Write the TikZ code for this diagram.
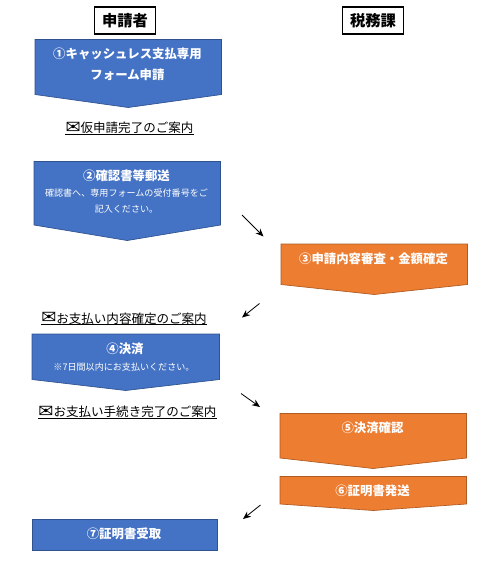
\documentclass[tikz,border=0pt]{standalone}
\usepackage{fontspec}
\newfontfamily\jp{Noto Sans CJK JP}
\newfontfamily\sym{DejaVu Sans}
\definecolor{bluef}{HTML}{4472C4}\definecolor{bluee}{HTML}{2F528F}
\definecolor{orgf}{HTML}{ED7D31}\definecolor{orge}{HTML}{AE5A21}
\newcommand{\mailicon}{{\sym\fontsize{13.5}{12}\selectfont\raisebox{-0.6pt}{✉}}}
\tikzset{
 x=0.75pt,y=-0.75pt,
 bluebox/.style={fill=bluef,draw=bluee,line width=0.5pt},
 orgbox/.style={fill=orgf,draw=orge,line width=0.5pt},
 head/.style={draw=black,line width=1.1pt,minimum width=45.5pt,minimum height=20pt,inner sep=0pt,font=\jp\bfseries\fontsize{11.5}{14}\selectfont},
 lab/.style={font=\jp\fontsize{9.4}{12}\selectfont,inner sep=0pt,text depth=1pt,text height=9pt},
 sub/.style={font=\jp\fontsize{6.8}{12.5}\selectfont,text=white,inner sep=0pt,align=center},
 big/.style={font=\jp\bfseries\fontsize{9.3}{12}\selectfont,text=white,inner sep=0pt,align=center},
 ul/.style={line width=0.6pt},
 arr/.style={-{Stealth[length=6pt,width=5pt]},line width=0.6pt},
}
\usetikzlibrary{arrows.meta}
\begin{document}
\begin{tikzpicture}
\useasboundingbox (0,0) rectangle (499,569);
% header
\node[head] (h1) at (125,20.5) {申請者};
\node[head] (h2) at (373,20.5) {税務課};
% shapes
\path[bluebox] (35,39.5) -- (221.5,39.5) -- (221.5,94.5) -- (128.2,107.5) -- (35,94.5) -- cycle;
\path[bluebox] (34,161.5) -- (220.5,161.5) -- (220.5,225) -- (127.2,240.5) -- (34,225) -- cycle;
\path[orgbox] (281,244) -- (467.5,244) -- (467.5,284.5) -- (374.2,294.5) -- (281,284.5) -- cycle;
\path[bluebox] (32,334) -- (219.5,334) -- (219.5,379.5) -- (125.7,390.5) -- (32,379.5) -- cycle;
\path[orgbox] (280,413.5) -- (466.5,413.5) -- (466.5,458) -- (373.2,468.5) -- (280,458) -- cycle;
\path[orgbox] (280,476.5) -- (466.5,476.5) -- (466.5,504) -- (373.2,510.5) -- (280,504) -- cycle;
\path[bluebox] (32,519) rectangle (217.5,550.5);
% texts
\node[big] (t1a) at (127.5,53.5) {①キャッシュレス支払専用};
\node[big] (t1b) at (127.5,74.5) {フォーム申請};
\node[big] (t2) at (126.5,175.5) {②確認書等郵送};
\node[sub] (t2s) at (126.5,201) {確認書へ、専用フォームの受付番号をご\\記入ください。};
\node[big] (t3) at (373.5,258.5) {③申請内容審査・金額確定};
\node[big] (t4) at (125,348.5) {④決済};
\node[sub] (t4s) at (124,367) {※7日間以内にお支払いください。};
\node[big] (t5) at (372.5,427.5) {⑤決済確認};
\node[big] (t6) at (372.5,490.5) {⑥証明書発送};
\node[big] (t7) at (124,533.5) {⑦証明書受取};
% mail labels
\node[lab] (m1) at (129.5,127) {\mailicon 仮申請完了のご案内};
\node[lab] (m2) at (124,317.8) {\mailicon お支払い内容確定のご案内};
\node[lab] (m3) at (127.5,411) {\mailicon お支払い手続き完了のご案内};
\draw[ul] (m1.south west) -- (m1.south east);
\draw[ul] (m2.south west) -- (m2.south east);
\draw[ul] (m3.south west) -- (m3.south east);
% arrows
\coordinate (a1) at (242,215); \coordinate (b1) at (263.5,236.5);
\coordinate (a2) at (259.5,303.5); \coordinate (b2) at (242,317.5);
\coordinate (a3) at (241,393.5); \coordinate (b3) at (260,407);
\coordinate (a4) at (260.5,505); \coordinate (b4) at (243,519);
\draw[arr] (a1) -- (b1);
\draw[arr] (a2) -- (b2);
\draw[arr] (a3) -- (b3);
\draw[arr] (a4) -- (b4);
\end{tikzpicture}
\end{document}
